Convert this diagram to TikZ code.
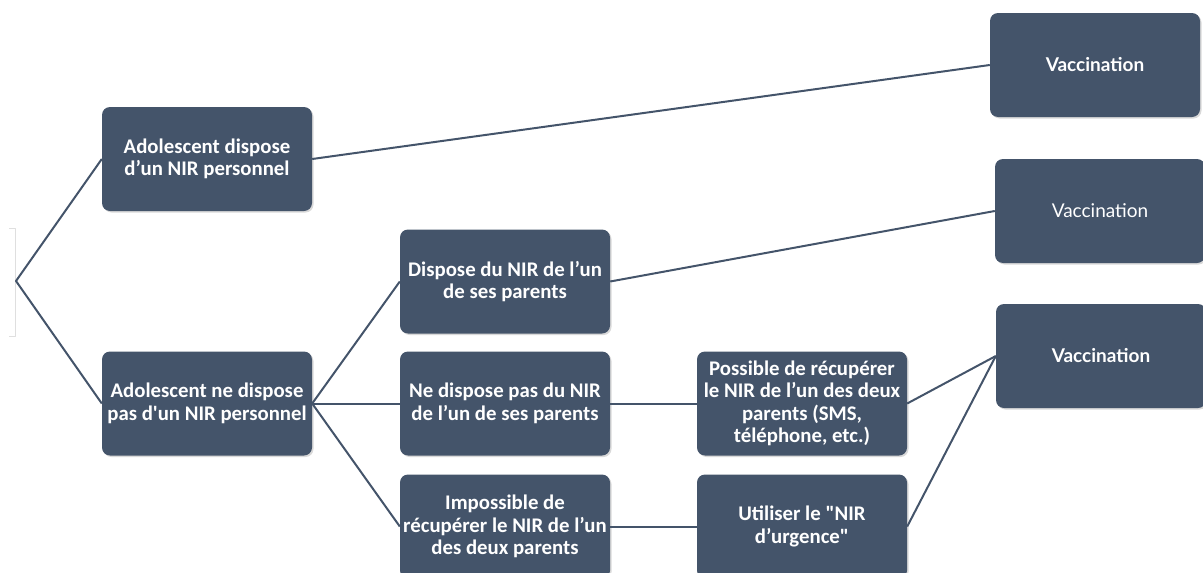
\documentclass[tikz,border=0pt]{standalone}
\usepackage{fontspec}
\setmainfont{Carlito}[Ligatures=TeXOff]
\newfontfamily\vaccfont{Lato}
\usetikzlibrary{shadows}
\definecolor{slate}{HTML}{44546A}
\begin{document}
\begin{tikzpicture}[x=1pt,y=-1pt,line join=round,
                box/.style={fill=slate,rounded corners=8pt,minimum width=210pt,minimum height=104pt,
                  inner sep=2pt,align=center,text=white,font=\bfseries\fontsize{20.8}{22.5}\selectfont,
                  drop shadow={shadow xshift=1.5pt,shadow yshift=-1.5pt,opacity=.3}},
                vacc/.style={box,font=\vaccfont\bfseries\fontsize{19}{21}\selectfont},
                vacclight/.style={box,font=\vaccfont\fontsize{19}{21}\selectfont},
                link/.style={draw=slate,line width=2pt}]
                \useasboundingbox (0,0) rectangle (1203,573);
                \draw[gray!25,line width=1pt] (9,228)--(15,228)--(15,336)--(9,336);
                \coordinate (root) at (16,281);
                \node[box] (perso)      at ( 207,159.0) {Adolescent dispose\\d’un NIR personnel};
                \node[box] (sansperso)  at ( 207,403.5) {Adolescent ne dispose\\pas d'un NIR personnel};
                \node[box] (parent)     at ( 505,281.5) {Dispose du NIR de l’un\\de ses parents};
                \node[box] (sansparent) at ( 505,403.5) {Ne dispose pas du NIR\\de l’un de ses parents};
                \node[box] (impossible) at ( 505,526.5) {Impossible de\\récupérer le NIR de l’un\\des deux parents};
                \node[box] (possible)   at ( 802,403.5) {Possible de récupérer\\le NIR de l’un des deux\\parents (SMS,\\téléphone, etc.)};
                \node[box] (urgence)    at ( 802,526.5) {Utiliser le "NIR\\d’urgence"};
                \node[vacc] (vaccA)     at (1095, 65.0) {Vaccination};
                \node[vacclight] (vaccB) at (1100,211.0) {Vaccination};
                \node[vacc] (vaccC)     at (1101,356.0) {Vaccination};
                \draw[link] (perso.west)--(root)--(sansperso.west);
                \draw[link] (perso.east)--(vaccA.west);
                \draw[link] (sansperso.east)--(parent.west);
                \draw[link] (sansperso.east)--(sansparent.west);
                \draw[link] (sansperso.east)--(impossible.west);
                \draw[link] (parent.east)--(vaccB.west);
                \draw[link] (sansparent.east)--(possible.west);
                \draw[link] (impossible.east)--(urgence.west);
                \draw[link] (possible.east)--(vaccC.west);
                \draw[link] (urgence.east)--(vaccC.west);
              \end{tikzpicture}
\end{document}
